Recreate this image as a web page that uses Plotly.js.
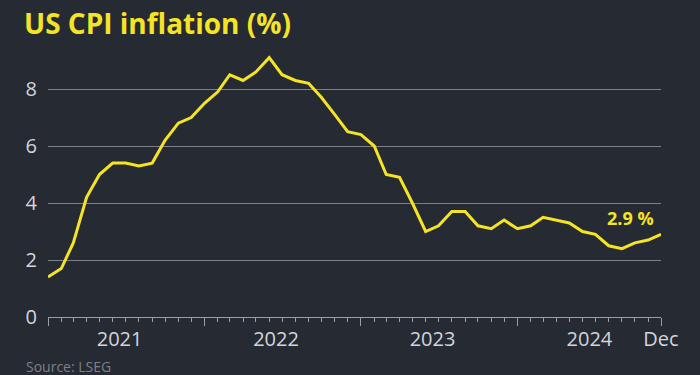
<!DOCTYPE html>
<html>
<head>
<meta charset="utf-8">
<script src="https://cdn.plot.ly/plotly-3.0.1.min.js"></script>
<style>
  html, body { margin: 0; padding: 0; background: #262a33; }
  #chart { width: 700px; height: 375px; }
</style>
</head>
<body>
<div id="chart"></div>
<script>
// Monthly US CPI inflation, Jan 2021 – Dec 2024 (%)
const months = [
  '2021-01-01','2021-02-01','2021-03-01','2021-04-01','2021-05-01','2021-06-01',
  '2021-07-01','2021-08-01','2021-09-01','2021-10-01','2021-11-01','2021-12-01',
  '2022-01-01','2022-02-01','2022-03-01','2022-04-01','2022-05-01','2022-06-01',
  '2022-07-01','2022-08-01','2022-09-01','2022-10-01','2022-11-01','2022-12-01',
  '2023-01-01','2023-02-01','2023-03-01','2023-04-01','2023-05-01','2023-06-01',
  '2023-07-01','2023-08-01','2023-09-01','2023-10-01','2023-11-01','2023-12-01',
  '2024-01-01','2024-02-01','2024-03-01','2024-04-01','2024-05-01','2024-06-01',
  '2024-07-01','2024-08-01','2024-09-01','2024-10-01','2024-11-01','2024-12-01'
];
const cpi = [
  1.4, 1.7, 2.6, 4.2, 5.0, 5.4, 5.4, 5.3, 5.4, 6.2, 6.8, 7.0,
  7.5, 7.9, 8.5, 8.3, 8.6, 9.1, 8.5, 8.3, 8.2, 7.7, 7.1, 6.5,
  6.4, 6.0, 5.0, 4.9, 4.0, 3.0, 3.2, 3.7, 3.7, 3.2, 3.1, 3.4,
  3.1, 3.2, 3.5, 3.4, 3.3, 3.0, 2.9, 2.5, 2.4, 2.6, 2.7, 2.9
];
const majorTicks = ['2021-01-01','2022-01-01','2023-01-01','2024-01-01','2024-12-01'];
const labelTicks = ['2021-06-17','2022-06-17','2023-06-17','2024-06-17','2024-12-01'];
const labelText = ['2021','2022','2023','2024','Dec'];
const yTicks = [0, 2, 4, 6, 8];
const lastLabel = '2.9 %';

const bg = '#262a33';
const yellow = '#f5e425';
const grid = '#7d8088';
const textGrey = '#d2d5dc';
const xRange = ['2021-01-01', '2024-12-01'];

const traces = [
  {
    x: months, y: cpi, type: 'scatter', mode: 'lines',
    line: { color: yellow, width: 3 },
    hoverinfo: 'skip', showlegend: false
  },
  {
    x: [months[0]], y: [cpi[0]], xaxis: 'x2', type: 'scatter', mode: 'markers',
    marker: { opacity: 0 }, hoverinfo: 'skip', showlegend: false
  }
];

const layout = {
  width: 700, height: 375,
  paper_bgcolor: bg, plot_bgcolor: bg,
  margin: { l: 48, r: 39, t: 46, b: 58 },
  font: { family: 'Open Sans, sans-serif', color: textGrey },
  title: {
    text: 'US CPI inflation (%)',
    font: { family: 'Open Sans, sans-serif', size: 28, color: yellow, weight: 'bold' },
    xref: 'container', x: 24 / 700, xanchor: 'left',
    yref: 'container', y: 1 - 24 / 375, yanchor: 'middle'
  },
  xaxis: {
    type: 'date', range: xRange, fixedrange: true,
    showgrid: false, zeroline: false,
    showline: true, linecolor: '#9a9ea6', linewidth: 1,
    tickmode: 'array', tickvals: majorTicks, showticklabels: false,
    ticks: 'outside', ticklen: 8, tickcolor: '#9a9ea6', tickwidth: 1,
    minor: { dtick: 'M1', tick0: '2021-01-01', ticks: 'outside', ticklen: 4,
             tickcolor: '#9a9ea6', tickwidth: 1, showgrid: false }
  },
  xaxis2: {
    type: 'date', range: xRange, overlaying: 'x', side: 'bottom', anchor: 'y',
    fixedrange: true, showgrid: false, zeroline: false, showline: false,
    tickmode: 'array', tickvals: labelTicks, ticktext: labelText,
    ticks: '', ticklabelstandoff: 8,
    tickfont: { size: 20, color: textGrey }
  },
  yaxis: {
    range: [0, 271 / 28.5], fixedrange: true,
    tickmode: 'array', tickvals: yTicks,
    showgrid: true, gridcolor: grid, gridwidth: 1,
    zeroline: false, showline: false, ticks: '',
    ticklabelstandoff: 10,
    tickfont: { size: 20, color: textGrey }
  },
  annotations: [
    {
      x: months[months.length - 1], y: cpi[cpi.length - 1], xref: 'x', yref: 'y',
      text: '<b>' + lastLabel + '</b>', showarrow: false,
      xanchor: 'right', yanchor: 'bottom', xshift: -5, yshift: 2,
      font: { size: 18, color: yellow }
    },
    {
      x: (24 - 48) / 613, y: (316.5 - 366) / 271, xref: 'paper', yref: 'paper',
      text: 'Source: LSEG', showarrow: false, xanchor: 'left', yanchor: 'middle',
      font: { size: 14, color: '#7d818a' }
    }
  ]
};

Plotly.newPlot('chart', traces, layout, { staticPlot: true, displayModeBar: false });
</script>
</body>
</html>
